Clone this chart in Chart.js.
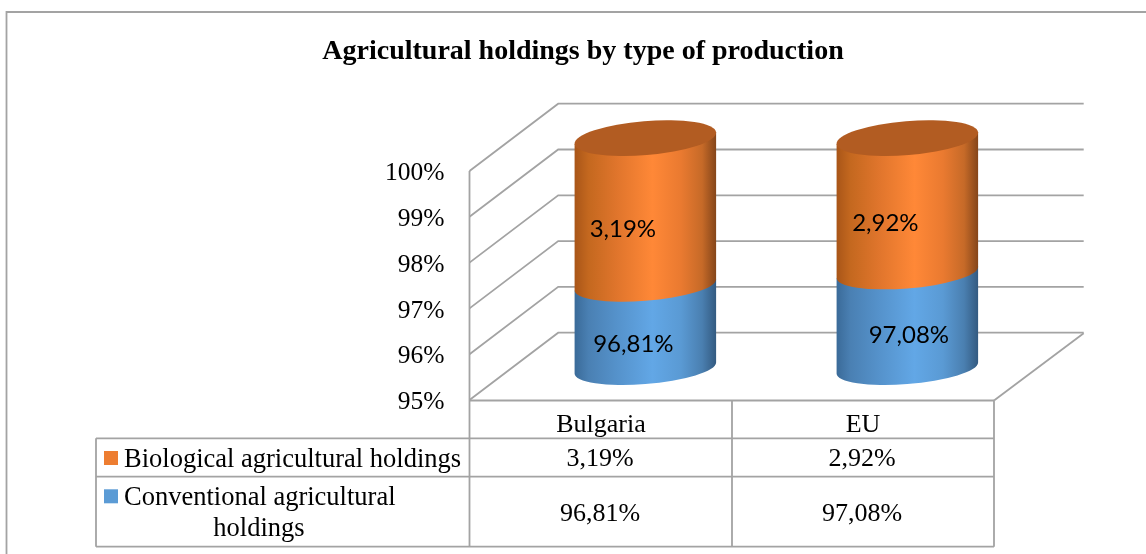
<!DOCTYPE html>
<html>
<head>
<meta charset="utf-8">
<style>html,body{margin:0;padding:0;background:#fff}canvas{display:block}</style>
<script src="https://cdn.jsdelivr.net/npm/chart.js@4/dist/chart.umd.js"></script>
</head>
<body>
<canvas id="c" width="1146" height="554"></canvas>
<script>
const chartTitle = 'Agricultural holdings by type of production';
const categories = ['Bulgaria', 'EU'];
const conventionalName = 'Conventional agricultural holdings';
const conventionalValues = [96.81, 97.08];
const biologicalName = 'Biological agricultural holdings';
const biologicalValues = [3.19, 2.92];
const axisMin = 95;
const axisMax = 100;

const fmt = v => v.toFixed(2).replace('.', ',') + '%';
const SERIF = '"Liberation Serif"';
const LINE = '#a3a3a3';
const DEPTH = {dx: 88.7, dy: -67.3};
const CYL = {rx: 0.5018, ry: 16, rot: -0.0817, t0: 0.0184};
const NUDGE = [[[-12, 17.5], [-22.5, 17.5]], [[1.5, 15.5], [-22, 18]]];

function seg(ctx, x, yLow, yHigh, a, b, stops) {
  const g = ctx.createLinearGradient(x - a, 0, x + a, 0);
  stops.forEach(s => g.addColorStop(s[0], s[1]));
  const lx = -Math.cos(CYL.rot) * a, ly = -Math.sin(CYL.rot) * a;
  ctx.beginPath();
  ctx.moveTo(x + lx, yHigh + ly);
  ctx.lineTo(x + lx, yLow + ly);
  ctx.ellipse(x, yLow, a, b, CYL.rot, Math.PI + CYL.t0, CYL.t0, true);
  ctx.lineTo(x - lx, yHigh - ly);
  ctx.closePath();
  ctx.fillStyle = g;
  ctx.fill();
}

const BLUE = [[0,'#3a6a98'],[0.1,'#4a80b3'],[0.3,'#5592cb'],[0.55,'#62a7e6'],[0.75,'#5a9ad4'],[0.9,'#4a7fb0'],[1,'#335a80']];
const ORANGE = [[0,'#a85518'],[0.1,'#c4681f'],[0.3,'#e0752c'],[0.55,'#ff8837'],[0.75,'#ea7a30'],[0.9,'#c66a28'],[1,'#84451a']];
const LID = '#b25c22';

const scene = {
  id: 'scene',
  beforeDatasetsDraw(chart) {
    const ctx = chart.ctx, y = chart.scales.y, area = chart.chartArea;
    const L = area.left - 0.5, R = area.right, T = y.getPixelForValue(axisMax), B = y.getPixelForValue(axisMin) + 0.5;
    ctx.save();
    ctx.strokeStyle = LINE;
    ctx.lineWidth = 1.8;
    // outer frame
    ctx.beginPath();
    ctx.moveTo(6.5, 554); ctx.lineTo(6.5, 12); ctx.lineTo(1146, 12);
    ctx.stroke();
    // walls and gridlines from the axis ticks
    y.ticks.forEach(t => {
      const p = y.getPixelForValue(t.value);
      ctx.beginPath();
      ctx.moveTo(L, p);
      ctx.lineTo(L + DEPTH.dx, p + DEPTH.dy);
      ctx.lineTo(R + DEPTH.dx + 1, p + DEPTH.dy);
      ctx.stroke();
    });
    ctx.beginPath();
    ctx.moveTo(R, B); ctx.lineTo(R + DEPTH.dx + 1, B + DEPTH.dy);
    ctx.stroke();
    // table
    const rowA = 438.3, rowB = 476.7, rowC = 546.7, keyL = 96, mid = chart.scales.x.getPixelForValue(0.5);
    ctx.beginPath();
    ctx.moveTo(L, T); ctx.lineTo(L, rowC);
    ctx.moveTo(L, B); ctx.lineTo(R, B);
    ctx.moveTo(mid, B); ctx.lineTo(mid, rowC);
    ctx.moveTo(R, B); ctx.lineTo(R, rowC);
    ctx.moveTo(keyL, rowA); ctx.lineTo(R, rowA);
    ctx.moveTo(keyL, rowB); ctx.lineTo(R, rowB);
    ctx.moveTo(keyL, rowC); ctx.lineTo(R, rowC);
    ctx.moveTo(keyL, rowA); ctx.lineTo(keyL, rowC);
    ctx.stroke();

    // table text
    ctx.fillStyle = '#000';
    ctx.textBaseline = 'alphabetic';
    const rows = [
      {ds: chart.data.datasets[1], key: 451, base: 466.5, valY: 466},
      {ds: chart.data.datasets[0], key: 489.3, base: 504.5, valY: 521}
    ];
    rows.forEach(r => {
      ctx.font = '26.5px ' + SERIF;
      ctx.fillStyle = r.ds.backgroundColor;
      ctx.fillRect(104, r.key, 14, 14);
      ctx.fillStyle = '#000';
      const words = r.ds.label.split(' ');
      const lines = [];
      let cur = '';
      words.forEach(w => {
        const next = cur ? cur + ' ' + w : w;
        if (ctx.measureText(next).width > 342) { lines.push(cur); cur = w; } else cur = next;
      });
      lines.push(cur);
      lines.forEach((ln, i) => {
        ctx.textAlign = i === 0 ? 'left' : 'center';
        ctx.fillText(ln, i === 0 ? 124 : 259, r.base + i * 31);
      });
      ctx.textAlign = 'center';
      ctx.font = '26px ' + SERIF;
      r.ds.data.forEach((v, i) => ctx.fillText(fmt(v), chart.scales.x.getPixelForValue(i) - 1, r.valY));
    });

    // cylinders
    const m0 = chart.getDatasetMeta(0), m1 = chart.getDatasetMeta(1);
    const floor = y.getPixelForValue(axisMin);
    const shift = p => { const q = Math.min(p, floor); return q + DEPTH.dy / 2 + 1.7 - (floor - q) * 0.004; };
    const cx = el => el.x + DEPTH.dx / 2;
    m0.data.forEach((el, i) => {
      const top = m1.data[i], x = cx(el), a = el.width * CYL.rx;
      const y0 = shift(el.base), y1 = shift(el.y), y2 = shift(top.y);
      seg(ctx, x, y0, y1, a, CYL.ry, BLUE);
      seg(ctx, x, y1, y2, a, CYL.ry, ORANGE);
      ctx.beginPath();
      ctx.ellipse(x, y2, a, CYL.ry + 1, CYL.rot, 0, Math.PI * 2);
      ctx.fillStyle = LID;
      ctx.fill();
    });
    // data labels
    ctx.font = '24px Lato';
    ctx.fillStyle = '#000';
    ctx.textAlign = 'center';
    ctx.textBaseline = 'middle';
    [m0, m1].forEach((m, d) => m.data.forEach((el, i) => {
      const yc = (shift(d === 0 ? el.base : m0.data[i].y) + shift(el.y)) / 2;
      const n = NUDGE[i][d];
      ctx.fillText(fmt(chart.data.datasets[d].data[i]), cx(el) + n[0], yc + n[1]);
    }));
    ctx.restore();
  },
  beforeDatasetDraw() { return false; }
};

new Chart(document.getElementById('c'), {
  type: 'bar',
  data: {
    labels: categories,
    datasets: [
      {label: conventionalName, data: conventionalValues, backgroundColor: '#5B9BD5', stack: 's'},
      {label: biologicalName, data: biologicalValues, backgroundColor: '#ED7D31', stack: 's'}
    ]
  },
  plugins: [scene],
  options: {
    responsive: false,
    animation: false,
    barPercentage: 0.54,
    categoryPercentage: 1,
    layout: {padding: {left: 172, right: 152, top: 0, bottom: 0}},
    plugins: {
      legend: {display: false},
      tooltip: {enabled: false},
      title: {
        display: true,
        text: chartTitle,
        color: '#000',
        font: {family: SERIF, size: 28, weight: 'bold', lineHeight: 1.2},
        padding: {top: 34.8, bottom: 102.6}
      }
    },
    scales: {
      x: {
        stacked: true,
        grid: {display: false, drawTicks: false},
        border: {display: false},
        afterFit(s) { s.height = 154; },
        ticks: {color: '#000', font: {family: SERIF, size: 26}, padding: 10, maxRotation: 0}
      },
      y: {
        stacked: true,
        min: axisMin,
        max: axisMax,
        grid: {display: false, drawTicks: false},
        border: {display: false},
        afterFit(s) { s.width = 298; },
        ticks: {color: '#000', stepSize: 1, font: {family: SERIF, size: 25.5}, padding: 25.5, labelOffset: 2.5, callback: v => v + '%'}
      }
    }
  }
});
</script>
</body>
</html>
